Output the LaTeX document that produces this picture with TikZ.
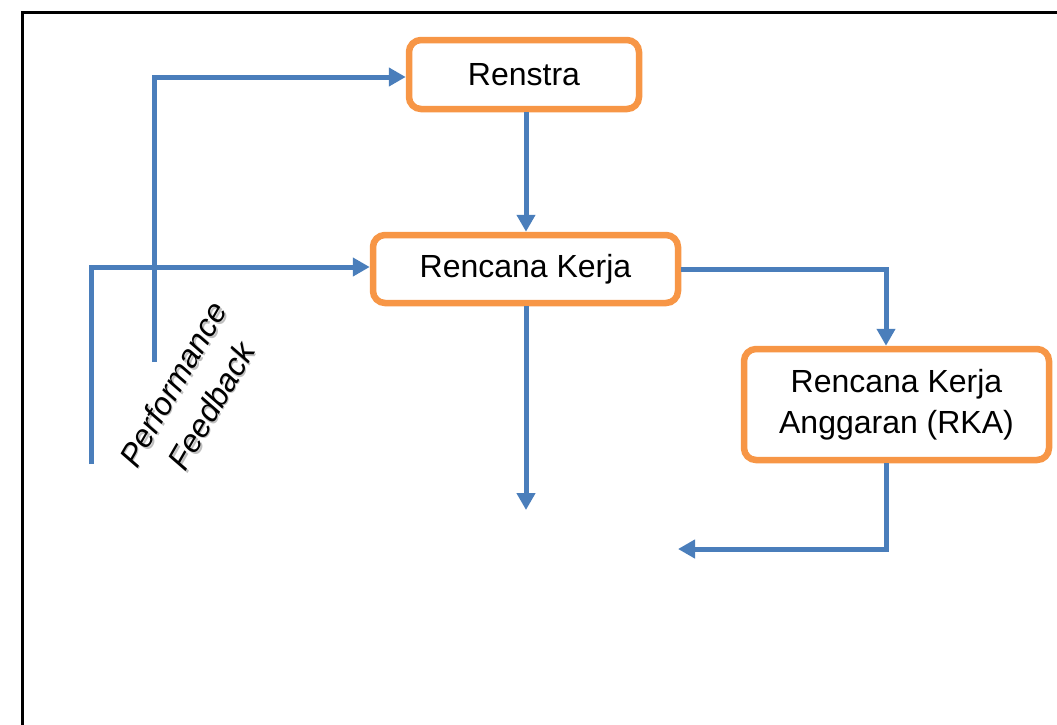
\documentclass[tikz,border=0pt]{standalone}
\usepackage{fontspec}
\setmainfont{Liberation Sans}
\usetikzlibrary{arrows.meta,calc}
\definecolor{bluel}{HTML}{4A7EBB}
\definecolor{orangeb}{HTML}{F79646}
\begin{document}
\begin{tikzpicture}[x=1pt,y=-1pt,
  box/.style={draw=orangeb,line width=6.5pt,rounded corners=12pt,fill=white,align=center,
    font=\fontsize{32}{41}\selectfont,inner sep=0pt},
  conn/.style={draw=bluel,line width=5pt,-{Triangle[width=18pt,length=17pt]}},
  lbl/.style={font=\fontsize{32}{44}\selectfont\itshape,align=center,rotate=60}]
\useasboundingbox (0,0) rectangle (1057,724);
\draw[line width=3pt] (22,12) rectangle (1080,760);
\node[box,minimum width=230pt,minimum height=69pt] (renstra) at (524,74.5) {Renstra};
\node[box,minimum width=305pt,minimum height=68pt] (rk) at (525.5,269) {Rencana Kerja};
\node[box,minimum width=305pt,minimum height=111pt] (rka) at (896.5,404.5) {Rencana Kerja\\Anggaran (RKA)};
\coordinate (rkdown) at (526,510);
\coordinate (rkaout) at (678,549);
\coordinate (fb1) at (154,362);
\coordinate (fb2) at (91,464);
\draw[conn] ([xshift=2pt]renstra.south) -- ([xshift=0.5pt]rk.north);
\draw[conn] ([xshift=0.5pt]rk.south) -- (rkdown);
\draw[conn] (rk.east) -| ([xshift=-10.5pt]rka.north);
\draw[conn] ([xshift=-10.5pt]rka.south) |- (rkaout);
\draw[conn] (fb1) |- ([yshift=-2.5pt]renstra.west);
\draw[conn] (fb2) |- ([yshift=2pt]rk.west);
\node[lbl,text=black!25] (fbshadow) at (193.5,396.5) {Performance\\Feedback};
\node[lbl] (fb) at (192,395) {Performance\\Feedback};
\end{tikzpicture}
\end{document}
